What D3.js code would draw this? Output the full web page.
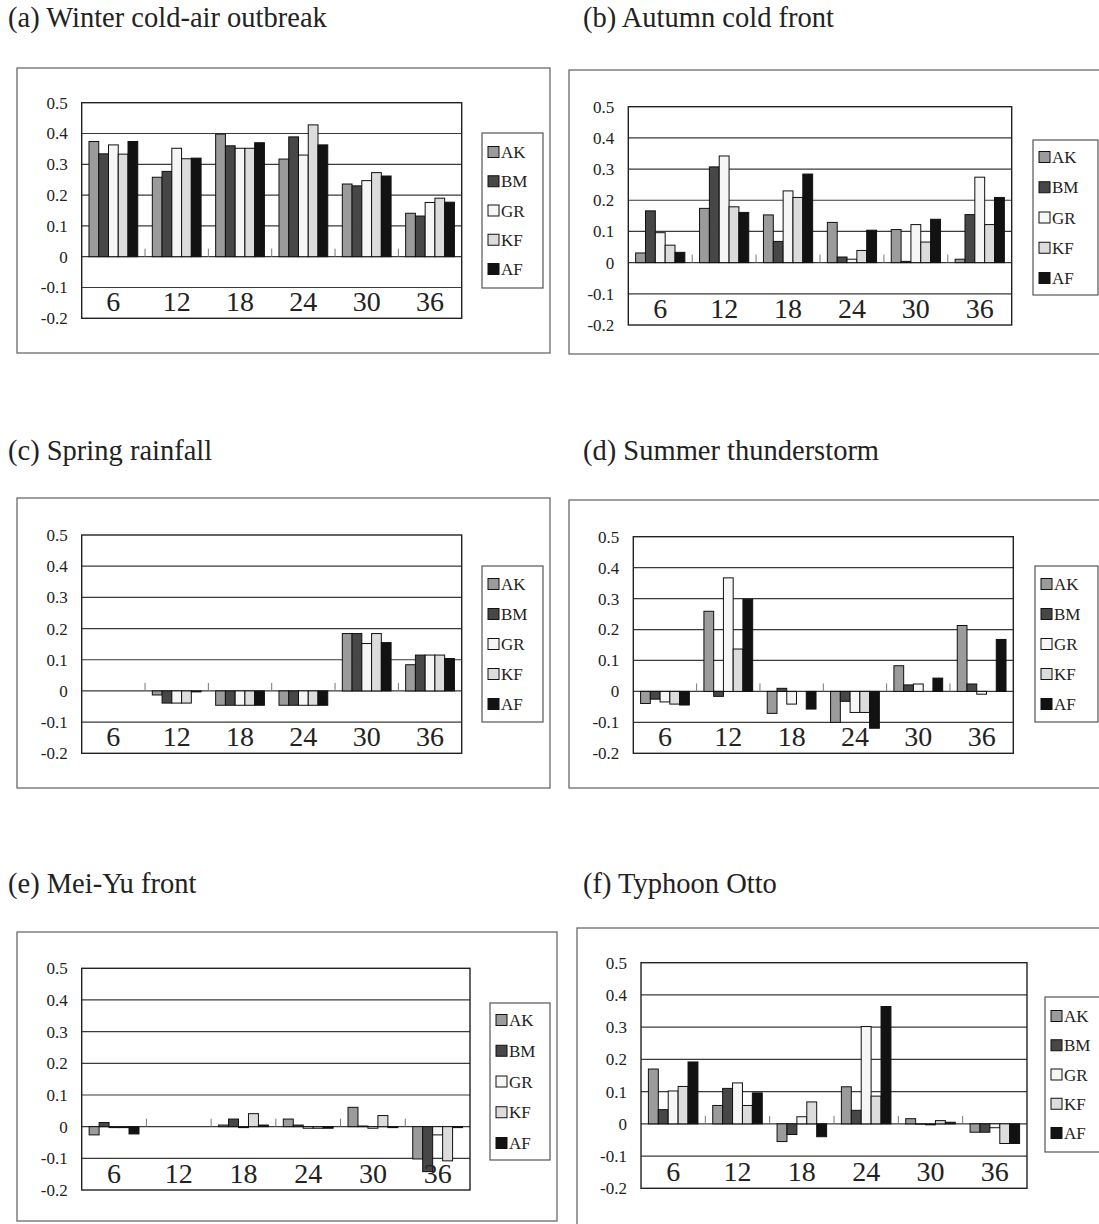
<!DOCTYPE html>
<html>
<head>
<meta charset="utf-8">
<script src="https://cdn.jsdelivr.net/npm/d3@7"></script>
<style>
  body { margin: 0; background: #fff; }
  svg { display: block; }
  svg text { font-family: "Liberation Serif", "Times New Roman", Times, "DejaVu Serif", serif !important; fill: #222; }
</style>
</head>
<body>
<svg id="fig" width="1099" height="1224"></svg>
<script>
// Forecast hours on the category axis and the five schemes in each group
const categories = ["6", "12", "18", "24", "30", "36"];
const models = ["AK", "BM", "GR", "KF", "AF"];
const yTicks = [0.5, 0.4, 0.3, 0.2, 0.1, 0, -0.1, -0.2];
const yTickLabels = ["0.5", "0.4", "0.3", "0.2", "0.1", "0", "-0.1", "-0.2"];
const titles = [
  "(a) Winter cold-air outbreak",
  "(b) Autumn cold front",
  "(c) Spring rainfall",
  "(d) Summer thunderstorm",
  "(e) Mei-Yu front",
  "(f) Typhoon Otto"
];

// One row per forecast hour; columns follow models: AK, BM, GR, KF, AF
const winterOutbreak = [
  [0.374, 0.334, 0.363, 0.333, 0.374],
  [0.258, 0.277, 0.352, 0.318, 0.320],
  [0.398, 0.360, 0.352, 0.352, 0.370],
  [0.317, 0.389, 0.330, 0.428, 0.363],
  [0.236, 0.230, 0.247, 0.273, 0.262],
  [0.141, 0.132, 0.176, 0.190, 0.177]
];
const autumnFront = [
  [0.031, 0.166, 0.096, 0.056, 0.033],
  [0.174, 0.307, 0.342, 0.179, 0.161],
  [0.153, 0.068, 0.230, 0.209, 0.284],
  [0.129, 0.018, 0.011, 0.039, 0.104],
  [0.106, 0.004, 0.122, 0.066, 0.139],
  [0.011, 0.154, 0.274, 0.122, 0.209]
];
const springRain = [
  [null, null, null, null, null],
  [-0.013, -0.039, -0.039, -0.039, -0.003],
  [-0.046, -0.046, -0.046, -0.046, -0.046],
  [-0.046, -0.046, -0.046, -0.046, -0.046],
  [0.184, 0.184, 0.152, 0.184, 0.155],
  [0.084, 0.115, 0.115, 0.115, 0.104]
];
const summerStorm = [
  [-0.039, -0.025, -0.034, -0.041, -0.044],
  [0.259, -0.016, 0.367, 0.137, 0.298],
  [-0.071, 0.010, -0.041, 0.000, -0.057],
  [-0.100, -0.032, -0.068, -0.068, -0.119],
  [0.083, 0.021, 0.024, 0.000, 0.043],
  [0.213, 0.024, -0.009, 0.000, 0.168]
];
const meiYuFront = [
  [-0.026, 0.013, -0.003, -0.003, -0.023],
  [null, null, null, null, null],
  [0.005, 0.024, -0.003, 0.041, 0.005],
  [0.024, 0.005, -0.005, -0.005, -0.005],
  [0.061, 0.002, -0.005, 0.035, -0.003],
  [-0.102, -0.142, -0.026, -0.108, -0.003]
];
const typhoonOtto = [
  [0.170, 0.044, 0.102, 0.116, 0.192],
  [0.057, 0.110, 0.127, 0.057, 0.096],
  [-0.055, -0.033, 0.022, 0.068, -0.040],
  [0.115, 0.042, 0.302, 0.086, 0.364],
  [0.016, -0.001, -0.003, 0.010, 0.005],
  [-0.026, -0.026, -0.012, -0.061, -0.061]
];

const seriesByPanel = [winterOutbreak, autumnFront, springRain, summerStorm, meiYuFront, typhoonOtto];
const fills = ["#9b9b9b", "#474747", "#f6f6f6", "#dcdcdc", "#121212"];

// Page layout of each panel: outer frame, plot area, legend box
const layout = [
  { title: [8, 27],   frame: [17, 68, 550, 353],   plot: [81.7, 102.7, 461.7, 318.3],  legend: [482, 133, 543, 288, 152] },
  { title: [583, 27], frame: [569, 70, 1110, 354], plot: [628.3, 106.7, 1011.7, 325], legend: [1033, 140, 1098, 295, 157] },
  { title: [8, 460],  frame: [17, 498, 550, 788],  plot: [81.7, 535, 461.7, 753.3],    legend: [482, 566, 543, 722, 584] },
  { title: [583, 460],frame: [569, 500, 1110, 788],plot: [633.3, 536.7, 1013.3, 753.3],legend: [1035, 566, 1098, 722, 584] },
  { title: [8, 893],  frame: [17, 932, 557, 1221], plot: [81.7, 968.3, 470, 1190],     legend: [490, 1003, 550, 1160, 1020] },
  { title: [583, 893],frame: [577, 928, 1110, 1230],plot: [641, 962.7, 1027, 1188.3],  legend: [1045, 997, 1110, 1152, 1016] }
];

const svg = d3.select("#fig");
svg.append("rect").attr("width", 1099).attr("height", 1224).attr("fill", "#fff");

seriesByPanel.forEach((rows, i) => {
  const L = layout[i];
  const g = svg.append("g");

  // panel title
  g.append("text")
    .attr("x", L.title[0]).attr("y", L.title[1])
    .attr("font-size", 28.5)
    .text(titles[i]);

  // outer frame
  const [fx0, fy0, fx1, fy1] = L.frame;
  g.append("rect")
    .attr("x", fx0).attr("y", fy0)
    .attr("width", fx1 - fx0).attr("height", fy1 - fy0)
    .attr("fill", "#fff").attr("stroke", "#6a6a6a").attr("stroke-width", 1.3);

  const [px0, py0, px1, py1] = L.plot;
  const y = d3.scaleLinear().domain([-0.2, 0.5]).range([py1, py0]);
  const x0 = d3.scaleBand().domain(categories).range([px0, px1]).padding(0);
  const bw = x0.bandwidth();
  const x1 = d3.scaleBand().domain(models).range([bw * 0.115, bw * 0.885]).padding(0);

  // horizontal gridlines
  g.append("g").selectAll("line")
    .data(yTicks.filter(t => t < 0.5 && t > -0.2))
    .join("line")
    .attr("x1", px0).attr("x2", px1)
    .attr("y1", d => y(d)).attr("y2", d => y(d))
    .attr("stroke", "#3a3a3a").attr("stroke-width", 1.2);

  // category boundary ticks on the zero line
  g.append("g").selectAll("line")
    .data(categories.slice(1))
    .join("line")
    .attr("x1", d => x0(d)).attr("x2", d => x0(d))
    .attr("y1", y(0)).attr("y2", y(0) - 8)
    .attr("stroke", "#777").attr("stroke-width", 1);

  // bars
  const cells = [];
  rows.forEach((r, ci) => r.forEach((v, mi) => {
    if (v !== null) cells.push({ cat: categories[ci], model: models[mi], v, mi });
  }));
  g.append("g").selectAll("rect")
    .data(cells)
    .join("rect")
    .attr("x", d => x0(d.cat) + x1(d.model))
    .attr("y", d => y(Math.max(0, d.v)))
    .attr("width", x1.bandwidth())
    .attr("height", d => Math.abs(y(d.v) - y(0)))
    .attr("fill", d => fills[d.mi])
    .attr("stroke", "#111").attr("stroke-width", 1);

  // plot area border
  g.append("rect")
    .attr("x", px0).attr("y", py0)
    .attr("width", px1 - px0).attr("height", py1 - py0)
    .attr("fill", "none").attr("stroke", "#222").attr("stroke-width", 1.4);

  // y axis labels
  const yAxis = d3.axisLeft(y).tickValues(yTicks)
    .tickFormat((d, k) => yTickLabels[k]).tickSize(0).tickPadding(14);
  const ya = g.append("g").attr("transform", `translate(${px0},0)`).call(yAxis);
  ya.attr("font-family", null);
  ya.select(".domain").remove();
  ya.selectAll("text")
    .attr("font-size", 17).attr("fill", "#222");

  // category labels inside the bottom band
  const xAxis = d3.axisBottom(x0).tickSize(0).tickPadding(0);
  const xa = g.append("g").attr("transform", `translate(0,${y(-0.2) - 27})`).call(xAxis);
  xa.attr("font-family", null);
  xa.select(".domain").remove();
  xa.selectAll("text")
    .attr("font-size", 28).attr("fill", "#222")
    .attr("dy", "0.71em");

  // legend
  const [lx0, ly0, lx1, ly1, first] = L.legend;
  g.append("rect")
    .attr("x", lx0).attr("y", ly0)
    .attr("width", lx1 - lx0).attr("height", ly1 - ly0)
    .attr("fill", "#fff").attr("stroke", "#555").attr("stroke-width", 1.2);
  const step = (ly1 - ly0 - 2 * (first - ly0)) / 4;
  const items = g.append("g").selectAll("g")
    .data(models)
    .join("g")
    .attr("transform", (d, k) => `translate(${lx0 + 6},${first + k * step})`);
  items.append("rect")
    .attr("x", 0).attr("y", -5.5).attr("width", 11).attr("height", 11)
    .attr("fill", (d, k) => fills[k]).attr("stroke", "#111").attr("stroke-width", 1);
  items.append("text")
    .attr("x", 13).attr("y", 6)
    .attr("font-size", 17)
    .text(d => d);
});
</script>
</body>
</html>
